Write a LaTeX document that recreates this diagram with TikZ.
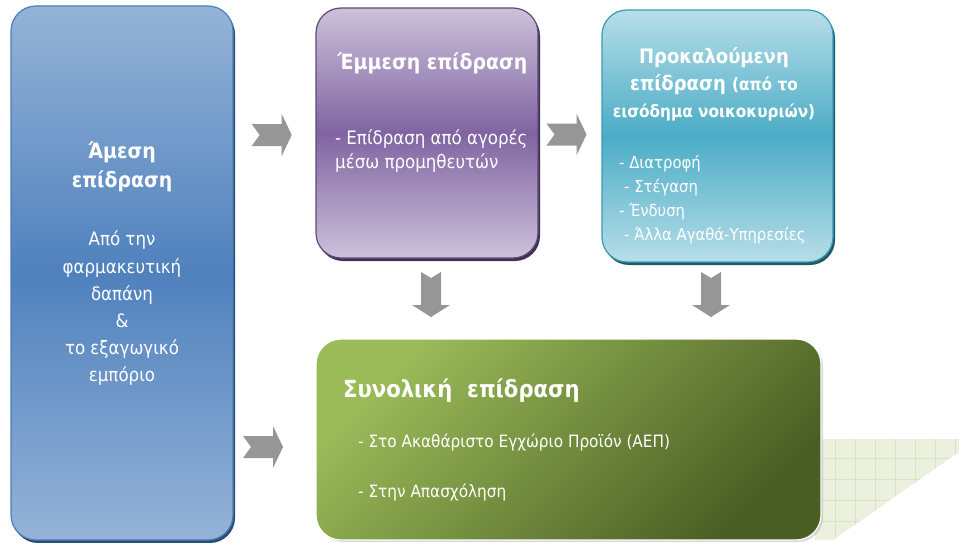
\documentclass[tikz,border=0pt]{standalone}
\usepackage{fontspec}
\setmainfont{DejaVu Sans Condensed}
\usetikzlibrary{positioning, calc, shadows}
\definecolor{blueLight}{HTML}{95B3D7}
\definecolor{blueMid}{HTML}{4F81BD}
\definecolor{blueEdge}{HTML}{4A7EBB}
\definecolor{blueShadow}{HTML}{2C4D75}
\definecolor{purpleLight}{HTML}{CCC1DA}
\definecolor{purpleMid}{HTML}{8064A2}
\definecolor{purpleEdge}{HTML}{5F497A}
\definecolor{purpleShadow}{HTML}{3F3151}
\definecolor{tealLight}{HTML}{B7DEE8}
\definecolor{tealMid}{HTML}{4BACC6}
\definecolor{tealEdge}{HTML}{3A9AB4}
\definecolor{tealShadow}{HTML}{215967}
\definecolor{greenLight}{HTML}{9BBB59}
\definecolor{greenDark}{HTML}{4A5E24}
\definecolor{gridFill}{HTML}{EBF1DE}
\definecolor{gridLine}{HTML}{D7E4BD}
\definecolor{arrowGray}{HTML}{969696}
\newcommand\setfs[2]{\fontsize{#1}{#2}\selectfont}

\tikzset{
  box/.style={rounded corners=25pt, inner sep=0pt, line width=1.2pt},
  bluebox/.style={box, draw=blueEdge, top color=blueLight, bottom color=blueLight, middle color=blueMid,
    drop shadow={shadow xshift=2pt, shadow yshift=-3pt, fill=blueShadow, opacity=1}},
  purplebox/.style={box, draw=purpleEdge, top color=purpleLight, bottom color=purpleLight, middle color=purpleMid,
    drop shadow={shadow xshift=2pt, shadow yshift=-3pt, fill=purpleShadow, opacity=1}},
  tealbox/.style={box, draw=tealEdge, top color=tealLight, bottom color=tealLight, middle color=tealMid,
    drop shadow={shadow xshift=2pt, shadow yshift=-3pt, fill=tealShadow, opacity=1}},
  greenbox/.style={box, draw=white, top color=greenLight, bottom color=greenDark, shading angle=45,
    drop shadow={shadow xshift=2pt, shadow yshift=-2pt, fill=black!30, opacity=0.5}},
  txt/.style={text=white, inner sep=0pt},
  arrowRight/.pic={\fill[arrowGray] (-20,-11) -- (10,-11) -- (10,-21) -- (20,0) -- (10,21) -- (10,11) -- (-20,11) -- (-12,0) -- cycle;},
  arrowDown/.pic={\fill[arrowGray] (-10,-22.5) -- (0,-16.5) -- (10,-22.5) -- (10,10.5) -- (19,10.5) -- (0,22.5) -- (-19,10.5) -- (-10,10.5) -- cycle;}
}

\begin{document}
\begin{tikzpicture}[x=1pt, y=-1pt]
  \useasboundingbox (0,0) rectangle (959,543);

  % grid paper behind the green box
  \begin{scope}
    \clip (815,439) -- (959,439) -- (959,452) -- (833,540) -- (815,540) -- cycle;
    \fill[gridFill] (815,439) rectangle (959,543);
    \foreach \gx in {835,855,...,955} \draw[gridLine, line width=0.6pt] (\gx,439) -- (\gx,543);
    \foreach \gy in {458,479,...,540} \draw[gridLine, line width=0.6pt] (815,\gy) -- (959,\gy);
  \end{scope}

  % boxes
  \node[bluebox, minimum width=222pt, minimum height=534pt] (amesi) at (122,273) {};
  \node[purplebox, minimum width=222pt, minimum height=250pt] (emmesi) at (427,133) {};
  \node[tealbox, minimum width=231pt, minimum height=252pt] (prokal) at (717.5,136) {};
  \node[greenbox, minimum width=505pt, minimum height=201pt] (synol) at (568.5,439.5) {};

  % arrows between the boxes
  \pic at (271.7,135) {arrowRight};
  \pic at (566.5,134.5) {arrowRight};
  \pic at (263,447) {arrowRight};
  \pic at (431,294.5) {arrowDown};
  \pic at (711,294.5) {arrowDown};

  % left box
  \node[txt, font=\setfs{21}{29}\bfseries, align=center, anchor=north] (amesi-t) at (122,142) {Άμεση\\επίδραση};
  \node[txt, font=\setfs{18.5}{27.2}, align=center, anchor=north] (amesi-b) at (122,231) {Από την\\φαρμακευτική\\δαπάνη\\\&\\το εξαγωγικό\\εμπόριο};

  % middle box
  \node[txt, font=\setfs{21}{26}\bfseries, anchor=base] (emmesi-t) at (432.5,70) {Έμμεση επίδραση};
  \node[txt, font=\setfs{18.5}{24}, align=left, anchor=north west] (emmesi-b) at (335,130) {- Επίδραση από αγορές\\ μέσω προμηθευτών};

  % right box
  \node[txt, font=\setfs{20}{27}\bfseries, align=center, anchor=north] (prokal-t) at (714,47)
    {Προκαλούμενη\\επίδραση {\setfs{17}{22}(από το}\\{\setfs{17}{22}εισόδημα νοικοκυριών)}};
  \node[txt, font=\setfs{16.5}{24}, align=left, anchor=north west] (prokal-b) at (619,155)
    {- Διατροφή\\\hspace*{5pt}- Στέγαση\\- Ένδυση\\\hspace*{5pt}- Άλλα Αγαθά-Υπηρεσίες};

  % bottom box
  \node[txt, font=\setfs{23.5}{28}\bfseries, anchor=base west] (synol-t) at (343,397) {Συνολική\ \ επίδραση};
  \node[txt, font=\setfs{17}{22}, anchor=base west] (synol-a) at (358,447) {- Στο Ακαθάριστο Εγχώριο Προϊόν (ΑΕΠ)};
  \node[txt, font=\setfs{17}{22}, anchor=base west] (synol-b) at (358,497) {- Στην Απασχόληση};
\end{tikzpicture}
\end{document}
